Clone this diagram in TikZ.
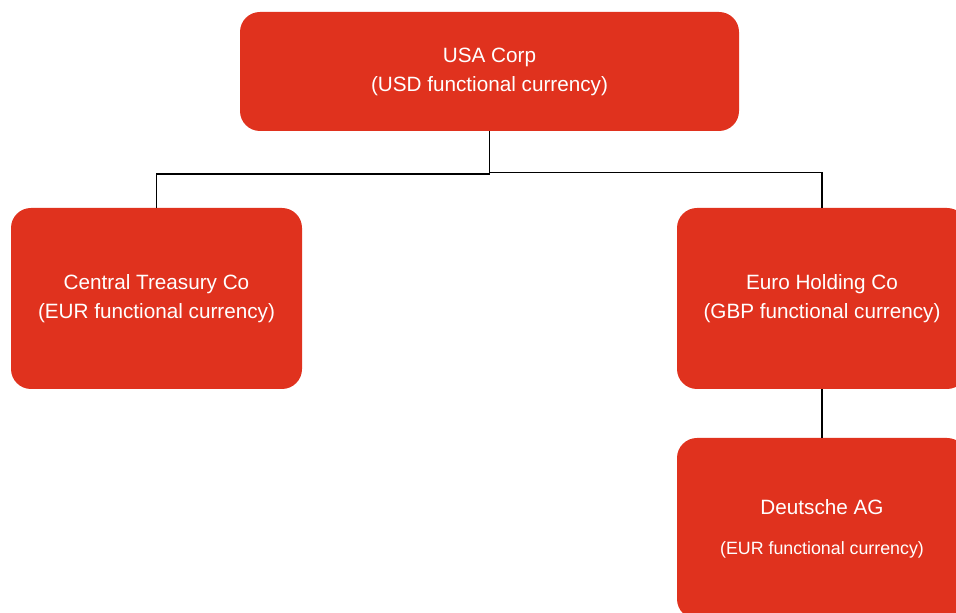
\documentclass[tikz,border=0pt]{standalone}
\usepackage{fontspec}
\setmainfont{Liberation Sans}
\definecolor{corpred}{RGB}{224,50,30}
\begin{document}
\begin{tikzpicture}[x=1pt,y=1pt]
    \def\bw{290}
    \def\bh{181}

    \tikzstyle{entity}=[fill=corpred,text=white,rounded corners=20pt,inner sep=0pt,align=center,
        minimum width=\bw,minimum height=\bh,font=\fontsize{20.7}{29}\selectfont]
    \tikzstyle{link}=[draw=black, line width=1.5pt]

    \useasboundingbox (0,0) rectangle (956,613);
    \clip (0,0) rectangle (956,613);

    \node[entity,minimum width=499,minimum height=119] (usa) at (489.5,541.5) {USA Corp\\(USD functional currency)};
    \node[entity,minimum width=291] (treasury) at (156.5,314.5) {Central Treasury Co\\(EUR functional currency)};
    \node[entity] (euro) at (822,314.5) {Euro Holding Co\\(GBP functional currency)};
    \node[entity] (deutsche) at (822,84.5) {Deutsche AG\\[11pt]{\fontsize{17.8}{29}\selectfont (EUR functional currency)}};

    \draw [link] (usa.south) -- ++(0,-43) -| (treasury.north);
    \draw [link] (usa.south) -- ++(0,-41.5) -| (euro.north);
    \draw [link] (euro.south) -- (deutsche.north);
\end{tikzpicture}
\end{document}
